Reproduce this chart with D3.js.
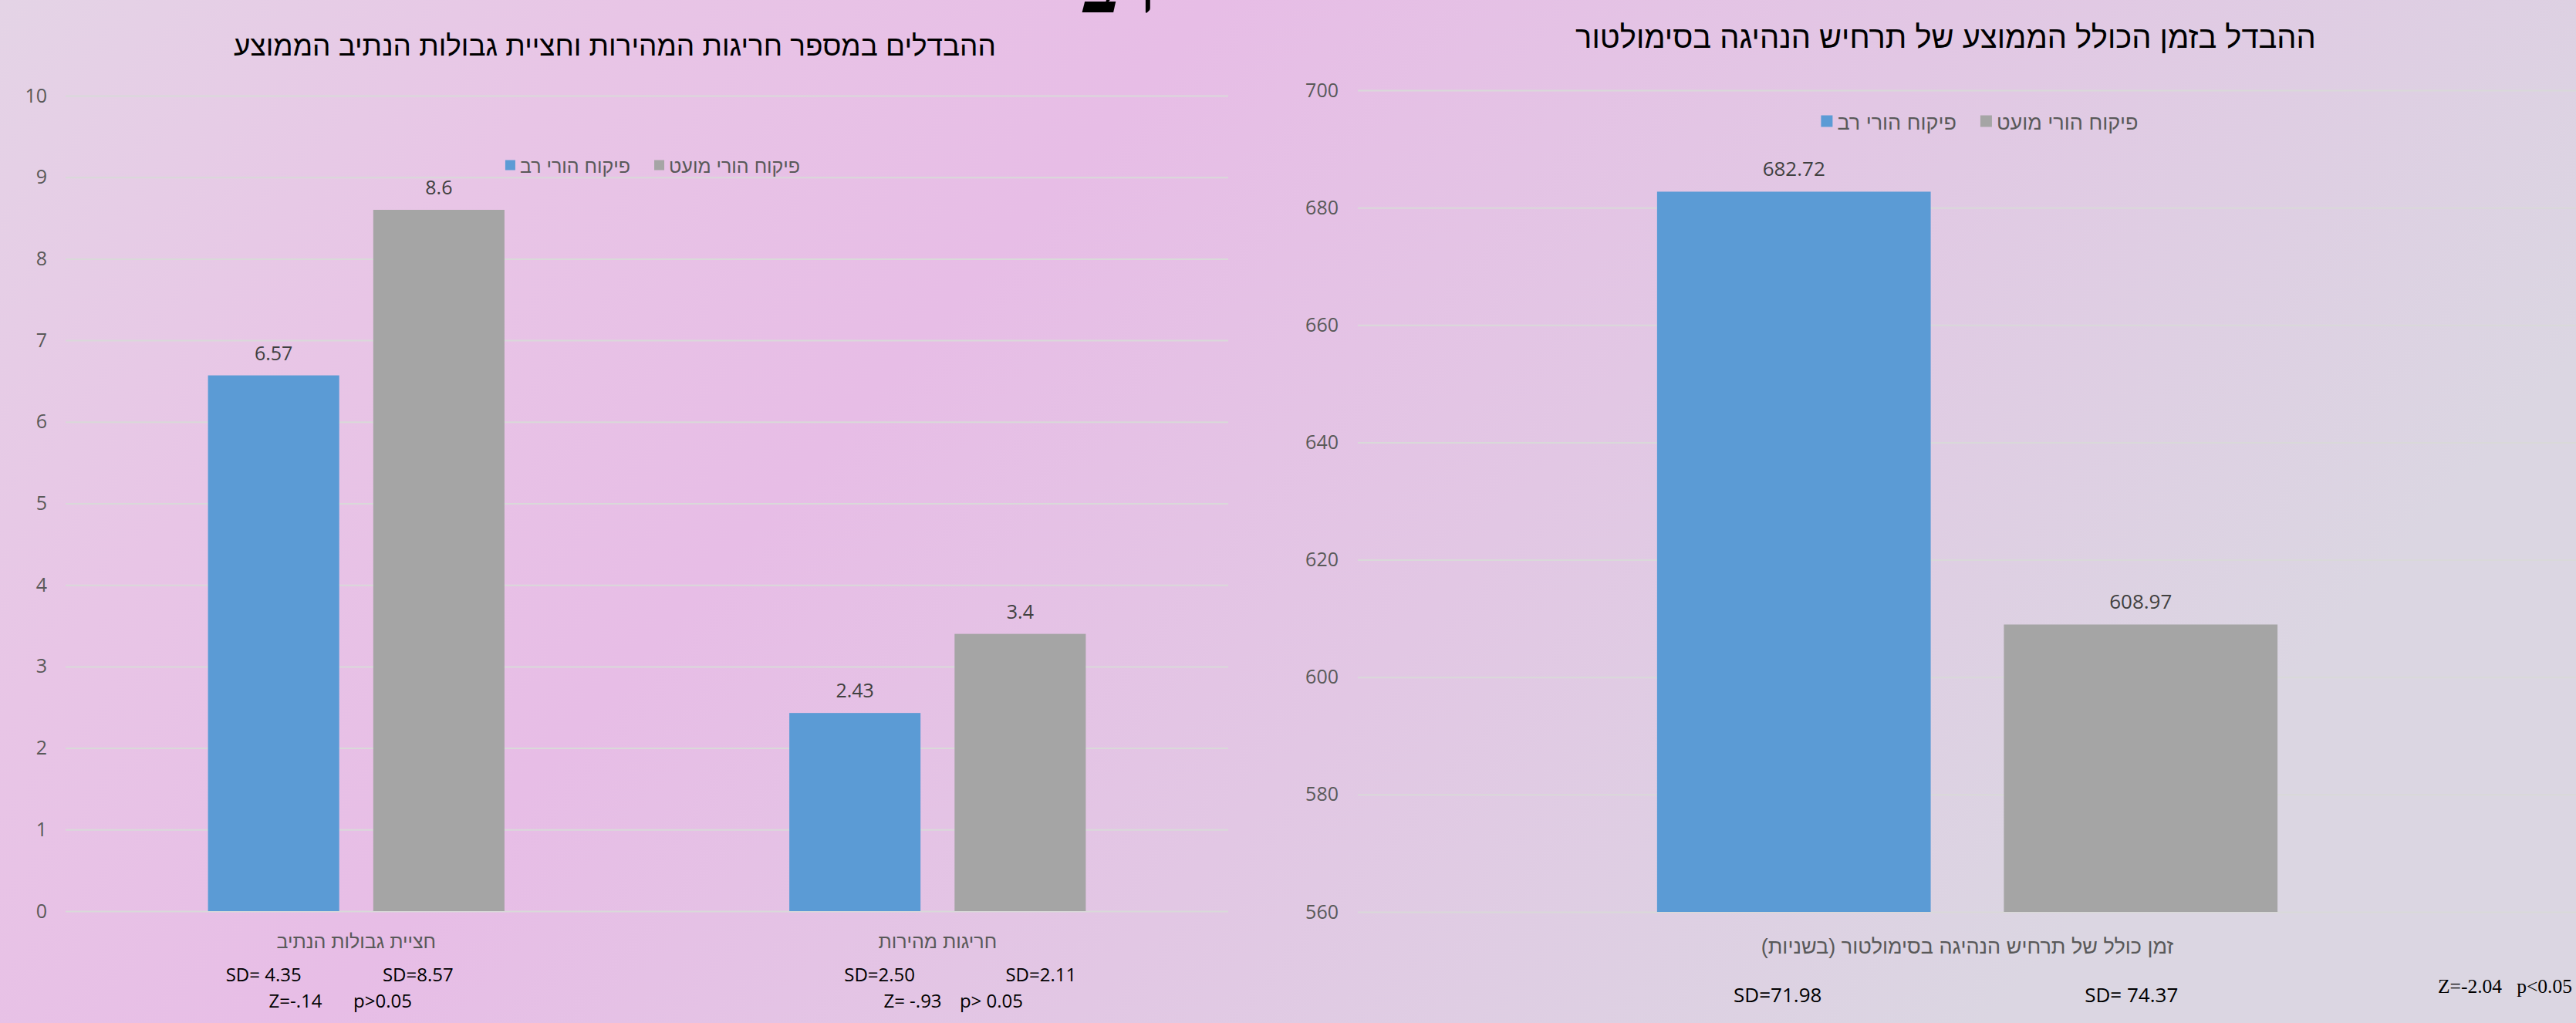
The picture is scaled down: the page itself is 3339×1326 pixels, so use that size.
<!DOCTYPE html>
<html><head><meta charset="utf-8">
<script src="https://cdn.jsdelivr.net/npm/d3@7/dist/d3.min.js"></script>
<style>body{margin:0;overflow:hidden;background:#e4cbe4} svg{display:block}</style>
</head><body>
<svg id="c" width="3339" height="1326"></svg>
<script>
// ---------- data ----------
const seriesNames = ["פיקוח הורי רב", "פיקוח הורי מועט"];
const seriesColors = ["#5b9bd5", "#a5a5a5"];

const leftTitle = "ההבדלים במספר חריגות המהירות וחציית גבולות הנתיב הממוצע";
const leftCategories = ["חציית גבולות הנתיב", "חריגות מהירות"];
const leftHigh = [6.57, 2.43];   // פיקוח הורי רב
const leftLow = [8.6, 3.4];      // פיקוח הורי מועט
const leftTicks = [0, 1, 2, 3, 4, 5, 6, 7, 8, 9, 10];
const leftSD = [["SD= 4.35", "SD=8.57"], ["SD=2.50", "SD=2.11"]];
const leftZ = ["Z=-.14", "Z= -.93"];
const leftP = ["p>0.05", "p> 0.05"];

const rightTitle = "ההבדל בזמן הכולל הממוצע של תרחיש הנהיגה בסימולטור";
const rightCategories = ["זמן כולל של תרחיש הנהיגה בסימולטור (בשניות)"];
const rightHigh = [682.72];
const rightLow = [608.97];
const rightTicks = [560, 580, 600, 620, 640, 660, 680, 700];
const rightSD = [["SD=71.98", "SD= 74.37"]];
const rightStat = "Z=-2.04   p<0.05";

const slideTitle = "רב";

// ---------- setup ----------
const svg = d3.select("#c");
const W = 3339, H = 1326;
const defs = svg.append("defs");
const grad = defs.append("linearGradient").attr("id", "bg")
  .attr("x1", "0%").attr("y1", "0%").attr("x2", "100%").attr("y2", "35%");
[["0%", "#e4d4e6"], ["22%", "#e8c5e6"], ["42%", "#e7bde6"], ["68%", "#e2c7e4"], ["100%", "#dbd6e2"]]
  .forEach(([o, c]) => grad.append("stop").attr("offset", o).attr("stop-color", c));
svg.append("rect").attr("width", W).attr("height", H).attr("fill", "url(#bg)");

const NUM_FONT = "'Open Sans', 'Noto Sans', sans-serif";
const HEB_FONT = "'Liberation Sans', Arial, 'DejaVu Sans', sans-serif";

function fit(sel, target) {
  const node = sel.node();
  const fs = parseFloat(sel.attr("font-size"));
  const w = node.getComputedTextLength();
  if (w > 0) sel.attr("font-size", (fs * target / w).toFixed(2));
  return sel;
}

function drawChart(cfg) {
  const g = svg.append("g");
  const y = d3.scaleLinear().domain(cfg.domain).range([cfg.y0, cfg.y1]);
  const x0 = d3.scaleBand().domain(cfg.categories).range([cfg.xL, cfg.xR]).padding(0);
  const groupW = x0.bandwidth() * cfg.groupFrac;
  const x1 = d3.scaleBand().domain(seriesNames).range([0, groupW]).paddingInner(cfg.innerPad).paddingOuter(0);

  // grid + ticks
  const axis = d3.axisLeft(y).tickValues(cfg.ticks).tickSize(-(cfg.xR - cfg.xL))
    .tickPadding(cfg.tickPad).tickFormat(d3.format("d"));
  const ag = g.append("g").attr("transform", `translate(${cfg.xL},0)`).call(axis);
  ag.select(".domain").remove();
  ag.selectAll("line").attr("stroke", "#d9d9d9").attr("stroke-width", 2);
  ag.selectAll("text").attr("fill", "#595959").attr("font-family", NUM_FONT)
    .attr("font-size", cfg.tickFont);

  // bars
  const rows = cfg.categories.map((c, i) => ({ cat: c, vals: [cfg.high[i], cfg.low[i]] }));
  const cg = g.selectAll(".cat").data(rows).join("g")
    .attr("transform", d => `translate(${x0(d.cat) + (x0.bandwidth() - groupW) / 2},0)`);
  const bars = cg.selectAll("g.bar").data(d => d.vals.map((v, k) => ({ v, k }))).join("g");
  bars.append("rect")
    .attr("x", d => x1(seriesNames[d.k]))
    .attr("width", x1.bandwidth())
    .attr("y", d => y(d.v))
    .attr("height", d => y(cfg.domain[0]) - y(d.v))
    .attr("fill", d => seriesColors[d.k]);
  bars.append("text")
    .attr("x", d => x1(seriesNames[d.k]) + x1.bandwidth() / 2)
    .attr("y", d => y(d.v) - 20)
    .attr("text-anchor", "middle").attr("fill", "#404040")
    .attr("font-family", NUM_FONT).attr("font-size", cfg.valFont)
    .text(d => String(d.v));

  // category labels
  g.selectAll(".catlab").data(cfg.categories).join("text")
    .attr("x", d => x0(d) + x0.bandwidth() / 2).attr("y", cfg.catY)
    .attr("text-anchor", "middle").style("direction", "rtl")
    .attr("fill", "#595959").attr("font-family", HEB_FONT).attr("font-size", cfg.catFont)
    .text(d => d);

  // title
  const t = g.append("text").attr("x", cfg.titleX).attr("y", cfg.titleY)
    .attr("text-anchor", "middle")
    .attr("fill", "#000").attr("font-family", HEB_FONT).attr("font-size", 34)
    .text(cfg.title);
  fit(t, cfg.titleW);

  // legend
  const lg = g.append("g");
  let cx = 0;
  seriesNames.forEach((s, k) => {
    const it = lg.append("g").attr("transform", `translate(${cx},0)`);
    it.append("rect").attr("x", 0).attr("y", -cfg.sq / 2 - 1).attr("width", cfg.sq).attr("height", cfg.sq)
      .attr("fill", seriesColors[k]);
    const tx = it.append("text").attr("x", cfg.sq + 6).attr("y", cfg.legFont * 0.36)
      .attr("text-anchor", "start")
      .attr("fill", "#595959").attr("font-family", HEB_FONT).attr("font-size", cfg.legFont).text(s);
    const w = tx.node().getComputedTextLength();
    cx += cfg.sq + 6 + w + 31;
  });
  const total = cx - 31;
  lg.attr("transform", `translate(${cfg.legCX - total / 2},${cfg.legY})`);

  return { x0, x1, y, groupW };
}

// ---------- left chart ----------
const L = drawChart({
  domain: [0, 10], y0: 1181, y1: 124, xL: 85, xR: 1592,
  categories: leftCategories, high: leftHigh, low: leftLow, ticks: leftTicks,
  groupFrac: 0.51, innerPad: 0.206, tickPad: 24, tickFont: 25, valFont: 25,
  catY: 1229, catFont: 25, title: leftTitle, titleX: 797, titleY: 72, titleW: 988,
  legCX: 846, legY: 215, legFont: 25, sq: 13
});

// ---------- right chart ----------
const R = drawChart({
  domain: [560, 700], y0: 1182, y1: 117, xL: 1760, xR: 3340,
  categories: rightCategories, high: rightHigh, low: rightLow, ticks: rightTicks,
  groupFrac: 0.509, innerPad: 0.211, tickPad: 25, tickFont: 25, valFont: 26,
  catY: 1236, catFont: 27, title: rightTitle, titleX: 2522, titleY: 62, titleW: 960,
  legCX: 2566, legY: 158, legFont: 27, sq: 15
});

// ---------- annotations (text boxes) ----------
function barCenter(C, cat, k) {
  return C.x0(cat) + (C.x0.bandwidth() - C.groupW) / 2 + C.x1(seriesNames[k]) + C.x1.bandwidth() / 2;
}
const ann = svg.append("g").attr("fill", "#000").attr("font-family", NUM_FONT);
const leftSDoff = [[-13, -27], [32, 27]];
leftCategories.forEach((c, i) => {
  [0, 1].forEach(k => {
    ann.append("text").attr("x", barCenter(L, c, k) + leftSDoff[i][k]).attr("y", 1272)
      .attr("text-anchor", "middle").attr("font-size", 24).text(leftSD[i][k]);
  });
});
const leftStatX = [[383, 496], [1183, 1285]];
leftCategories.forEach((c, i) => {
  ann.append("text").attr("x", leftStatX[i][0]).attr("y", 1306)
    .attr("text-anchor", "middle").attr("font-size", 24).text(leftZ[i]);
  ann.append("text").attr("x", leftStatX[i][1]).attr("y", 1306)
    .attr("text-anchor", "middle").attr("font-size", 24).text(leftP[i]);
});
const rightSDoff = [-21, -12];
rightCategories.forEach((c, i) => {
  [0, 1].forEach(k => {
    ann.append("text").attr("x", barCenter(R, c, k) + rightSDoff[k]).attr("y", 1299)
      .attr("text-anchor", "middle").attr("font-size", 26).text(rightSD[i][k]);
  });
});
const st = svg.append("text").attr("x", 3160).attr("y", 1287)
  .attr("font-family", "'Liberation Serif', 'DejaVu Serif', serif")
  .attr("font-size", 27).attr("fill", "#000").attr("xml:space", "preserve").style("white-space", "pre")
  .text(rightStat);
fit(st, 174);

// slide title remnant at top
svg.append("text").attr("x", 1450).attr("y", 16).attr("text-anchor", "middle")
  .attr("font-family", "'Liberation Serif', 'DejaVu Serif', serif").attr("font-weight", "bold")
  .attr("font-size", 100).attr("fill", "#000").text(slideTitle);
</script>
</body></html>
